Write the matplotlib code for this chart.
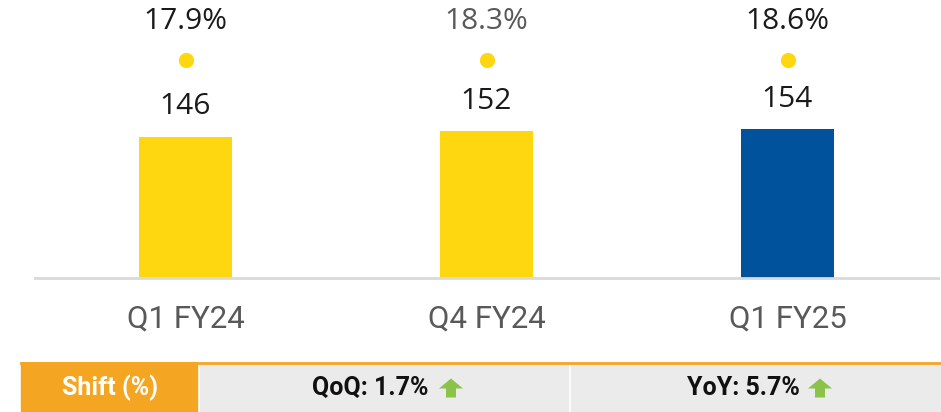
import matplotlib.pyplot as plt
from matplotlib.patches import Rectangle, Polygon

plt.rcParams['font.family'] = ['Roboto', 'DejaVu Sans']

# data
quarters = ['Q1 FY24', 'Q4 FY24', 'Q1 FY25']
values = [146, 152, 154]
share_pct = [17.9, 18.3, 18.6]
bar_colors = ['#FFD711', '#FFD711', '#00529C']
pct_colors = ['#1a1a1a', '#595959', '#1a1a1a']
shift_label = 'Shift (%)'
shift_items = ['QoQ: 1.7%', 'YoY: 5.7%']

W, H = 941, 412
fig = plt.figure(figsize=(W / 100, H / 100), dpi=100)

# main bar chart
ax = fig.add_axes([35 / W, (H - 278) / H, (938 - 35) / W, 278 / H])
x = range(len(quarters))
ax.bar(x, values, width=0.31, color=bar_colors)
ax.set_xlim(-0.5, 2.5)
ax.set_ylim(0, 287.5)

label_font = ['Open Sans', 'DejaVu Sans']
for i, v in enumerate(values):
    ax.annotate(f'{v}', (i, v), xytext=(0, 21.5), textcoords='offset points',
                ha='center', va='center', fontsize=21.5, color='#1a1a1a',
                family=label_font)

# share dots and labels at a fixed level above the bars
dot_y = 225
for i, p in enumerate(share_pct):
    ax.scatter(i, dot_y, s=120, color='#FFD711', zorder=3, linewidths=0)
    ax.text(i, dot_y + 40, f'{p:.1f}%', ha='center', va='center',
            fontsize=21.5, color=pct_colors[i], family=label_font)

ax.set_yticks([])
for s in ['top', 'right', 'left']:
    ax.spines[s].set_visible(False)
ax.spines['bottom'].set_color('#d9d9d9')
ax.spines['bottom'].set_linewidth(2)
ax.set_xticks(list(x))
ax.set_xticklabels(quarters, fontsize=22.5, color='#595959')
ax.tick_params(axis='x', length=0, pad=19)

# shift table at the bottom
tb = fig.add_axes([0, 0, 1, 50 / H])
tb.set_xlim(0, W)
tb.set_ylim(0, 50)
tb.axis('off')

tb.add_patch(Rectangle((21, 0), 176, 50, color='#F4A623'))
tb.add_patch(Rectangle((200, 0), 368, 48, color='#EBEBEB'))
tb.add_patch(Rectangle((571, 0), 370, 48, color='#EBEBEB'))
tb.plot([21, 941], [49, 49], color='#F4A623', lw=2)
tb.text(110, 24, shift_label, ha='center', va='center', fontsize=18,
        fontweight='bold', color='white')


def up_arrow(cx, cy):
    pts = [(cx - 12, cy), (cx, cy + 10), (cx + 12, cy), (cx + 5, cy),
           (cx + 5, cy - 9), (cx - 5, cy - 9), (cx - 5, cy)]
    tb.add_patch(Polygon(pts, closed=True, color='#8BC34A', lw=0))


for txt, right_x, arr_x in zip(shift_items, [429, 800], [451, 820]):
    tb.text(right_x, 24, txt, ha='right', va='center', fontsize=18,
            fontweight='bold', color='#111111')
    up_arrow(arr_x, 23.5)

fig.savefig('out.png', dpi=100)
